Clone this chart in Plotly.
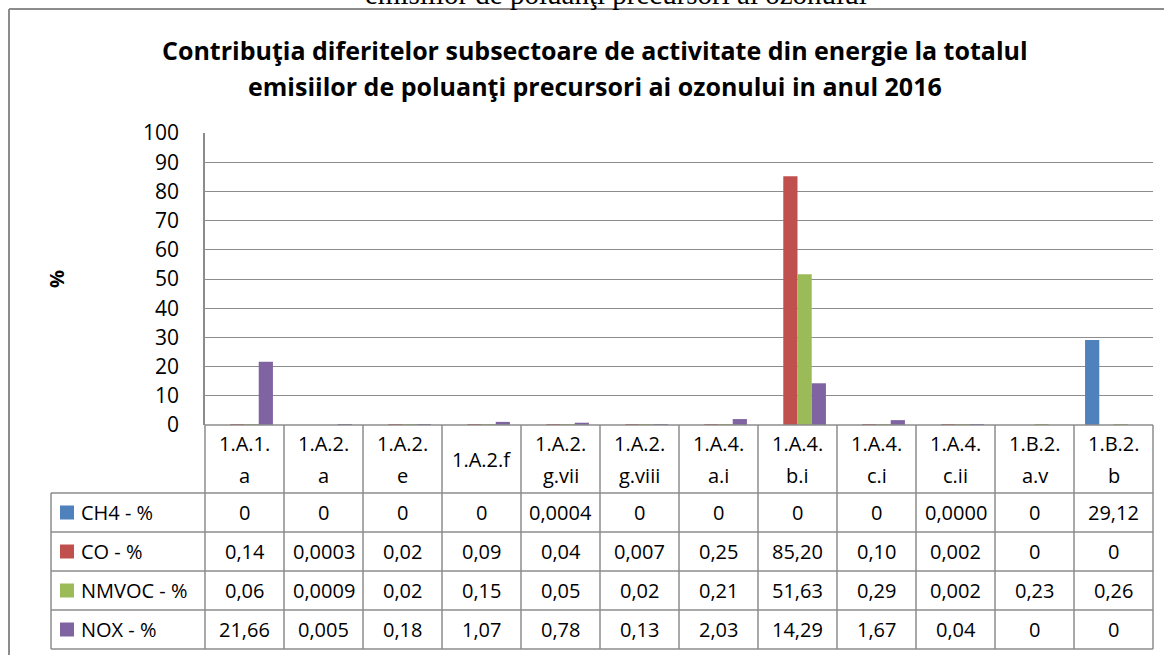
import plotly.graph_objects as go

# ---------------- data ----------------
categories = ["1.A.1.a", "1.A.2.a", "1.A.2.e", "1.A.2.f", "1.A.2.g.vii", "1.A.2.g.viii",
              "1.A.4.a.i", "1.A.4.b.i", "1.A.4.c.i", "1.A.4.c.ii", "1.B.2.a.v", "1.B.2.b"]
header_lines = [["1.A.1.", "a"], ["1.A.2.", "a"], ["1.A.2.", "e"], ["1.A.2.f"],
                ["1.A.2.", "g.vii"], ["1.A.2.", "g.viii"], ["1.A.4.", "a.i"], ["1.A.4.", "b.i"],
                ["1.A.4.", "c.i"], ["1.A.4.", "c.ii"], ["1.B.2.", "a.v"], ["1.B.2.", "b"]]
series_names = ["CH4 - %", "CO - %", "NMVOC - %", "NOX - %"]
ch4_lbl = ["0", "0", "0", "0", "0,0004", "0", "0", "0", "0", "0,0000", "0", "29,12"]
co_lbl = ["0,14", "0,0003", "0,02", "0,09", "0,04", "0,007", "0,25", "85,20", "0,10", "0,002", "0", "0"]
nmvoc_lbl = ["0,06", "0,0009", "0,02", "0,15", "0,05", "0,02", "0,21", "51,63", "0,29", "0,002", "0,23", "0,26"]
nox_lbl = ["21,66", "0,005", "0,18", "1,07", "0,78", "0,13", "2,03", "14,29", "1,67", "0,04", "0", "0"]
y_ticks = [0, 10, 20, 30, 40, 50, 60, 70, 80, 90, 100]

title1 = "Contribuţia diferitelor subsectoare de activitate din energie la totalul"
title2 = "emisiilor de poluanţi precursori ai ozonului in anul 2016"
cut_text = "emisiilor de poluanţi precursori ai ozonului"

colors = ["#4F81BD", "#C0504D", "#9BBB59", "#8064A2"]
labels = [ch4_lbl, co_lbl, nmvoc_lbl, nox_lbl]


def num(s):
    return float(s.replace(",", "."))


values = [[num(s) for s in lst] for lst in labels]

# ---------------- geometry helpers (pixels -> paper) ----------------
W, H = 1164, 655
X0, X1 = 205, 1153
Y0, Y1 = 425, 133
PW, PH = X1 - X0, Y0 - Y1


def px(x):
    return (x - X0) / PW


def py(y):
    return (Y0 - y) / PH


FONT = "Open Sans"
GRID = "#8c8c8c"

fig = go.Figure()
for name, vals, col in zip(series_names, values, colors):
    fig.add_trace(go.Bar(x=categories, y=vals, name=name, marker=dict(color=col, line=dict(width=0)),
                         showlegend=False, hoverinfo="skip"))

shapes = []
ann = []

# outer frame
shapes.append(dict(type="line", xref="paper", yref="paper", x0=px(9), x1=px(1170), y0=py(9), y1=py(9),
                   line=dict(color=GRID, width=2)))
shapes.append(dict(type="line", xref="paper", yref="paper", x0=px(9), x1=px(9), y0=py(9), y1=py(660),
                   line=dict(color=GRID, width=2)))

# table geometry
n = len(categories)
cw = PW / n
row_edges = [425, 493, 532, 571, 610, 649]
TL = 51  # legend column left edge
tline = dict(color=GRID, width=1.5)
shapes.append(dict(type="line", xref="paper", yref="paper", x0=px(X0), x1=px(X1), y0=py(425), y1=py(425), line=tline))
for yy in row_edges[1:]:
    shapes.append(dict(type="line", xref="paper", yref="paper", x0=px(TL), x1=px(X1), y0=py(yy), y1=py(yy), line=tline))
for i in range(n + 1):
    xx = X0 + i * cw
    shapes.append(dict(type="line", xref="paper", yref="paper", x0=px(xx), x1=px(xx), y0=py(425), y1=py(649), line=tline))
shapes.append(dict(type="line", xref="paper", yref="paper", x0=px(TL), x1=px(TL), y0=py(493), y1=py(649), line=tline))

tfont = dict(family=FONT, size=20, color="black")
for i, lines in enumerate(header_lines):
    if len(lines) == 1:
        ann.append(dict(x=i, xref="x", y=py(459), yref="paper", text=lines[0], showarrow=False,
                        font=tfont, xanchor="center", yanchor="middle"))
    else:
        for ln, yy in zip(lines, [443, 475]):
            ann.append(dict(x=i, xref="x", y=py(yy), yref="paper", text=ln, showarrow=False,
                            font=tfont, xanchor="center", yanchor="middle"))
for r, (name, lst, col) in enumerate(zip(series_names, labels, colors)):
    yc = (row_edges[r + 1] + row_edges[r + 2]) / 2
    shapes.append(dict(type="rect", xref="paper", yref="paper", x0=px(60), x1=px(74), y0=py(yc - 7), y1=py(yc + 7),
                       fillcolor=col, line=dict(width=0)))
    ann.append(dict(x=px(79), xref="paper", y=py(yc), yref="paper", text=name, showarrow=False,
                    font=tfont, xanchor="left", yanchor="middle"))
    for i, s in enumerate(lst):
        ann.append(dict(x=i, xref="x", y=py(yc), yref="paper", text=s, showarrow=False,
                        font=tfont, xanchor="center", yanchor="middle"))

ann.append(dict(x=px(595), xref="paper", y=py(50), yref="paper", text="<b>" + title1 + "</b>", showarrow=False,
                font=dict(family=FONT, size=25, color="black"), xanchor="center", yanchor="middle"))
ann.append(dict(x=px(595), xref="paper", y=py(86), yref="paper", text="<b>" + title2 + "</b>", showarrow=False,
                font=dict(family=FONT, size=25, color="black"), xanchor="center", yanchor="middle"))
ann.append(dict(x=px(616), xref="paper", y=py(-6), yref="paper", text=cut_text, showarrow=False,
                font=dict(family="Liberation Serif", size=29, color="black"), xanchor="center", yanchor="middle"))
ann.append(dict(x=px(56), xref="paper", y=py(279), yref="paper", text="<b>%</b>", showarrow=False, textangle=-90,
                font=dict(family=FONT, size=20, color="black"), xanchor="center", yanchor="middle"))

fig.update_layout(
    width=W, height=H,
    margin=dict(l=X0, r=W - X1, t=Y1, b=H - Y0, pad=0),
    paper_bgcolor="white", plot_bgcolor="white",
    barmode="group", bargap=0.28, bargroupgap=0,
    shapes=shapes, annotations=ann,
    font=dict(family=FONT, color="black"),
    xaxis=dict(showticklabels=False, showgrid=False, zeroline=False, showline=False, ticks="",
               range=[-0.5, n - 0.5], fixedrange=True),
    yaxis=dict(range=[0, 100], tickvals=y_ticks, showgrid=True, gridcolor=GRID, gridwidth=1.3,
               zeroline=False, showline=True, linecolor=GRID, linewidth=1.5, ticks="",
               tickfont=dict(family=FONT, size=21, color="black"), ticklabelstandoff=20, fixedrange=True),
)

post = ("var st=document.createElement('style');"
        "st.textContent='html,body{margin:0;padding:0;overflow:hidden;scrollbar-width:none;}"
        "::-webkit-scrollbar{display:none;width:0;height:0;}';"
        "document.head.appendChild(st);"
        "var gd=document.getElementsByClassName('plotly-graph-div')[0];"
        "gd.style.position='fixed';gd.style.left='0px';gd.style.top='0px';window.scrollTo(0,0);")
fig.write_html("out.html", config={"displayModeBar": False}, post_script=post)
